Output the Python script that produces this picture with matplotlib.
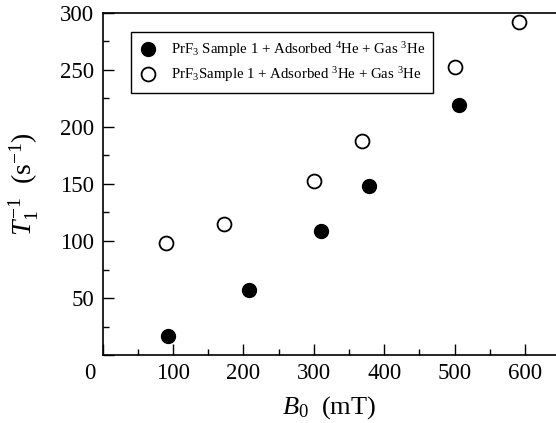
import matplotlib
matplotlib.use("Agg")
import matplotlib.pyplot as plt
import matplotlib.transforms as mtransforms

plt.rcParams['font.family'] = ['Liberation Serif', 'DejaVu Serif']
plt.rcParams['mathtext.fontset'] = 'custom'
plt.rcParams['mathtext.rm'] = 'Liberation Serif'
plt.rcParams['mathtext.it'] = 'Liberation Serif:italic'

# filled: PrF3 + adsorbed 4He + gas 3He
b_filled = [93, 208, 310, 379, 506]
rate_filled = [17, 57, 109, 148, 219]
# open: PrF3 + adsorbed 3He + gas 3He
b_open = [90, 172, 300, 369, 501, 591]
rate_open = [98, 115, 153, 188, 253, 292]

label_filled = r"PrF$_3$ Sample 1 + Adsorbed $^4$He + Gas $^3$He"
label_open = r"PrF$_3$Sample 1 + Adsorbed $^3$He + Gas $^3$He"

xticks = [0, 100, 200, 300, 400, 500, 600]
yticks = [0, 50, 100, 150, 200, 250, 300]

fig = plt.figure(figsize=(5.56, 4.23), dpi=100)
ax = fig.add_axes([102.5 / 556, 1 - 355 / 423, 1 - 102.5 / 556, (355 - 13) / 423])

ax.plot(b_filled, rate_filled, 'o', color='black', markersize=10, label=label_filled)
ax.plot(b_open, rate_open, 'o', markerfacecolor='white', markeredgecolor='black',
        markeredgewidth=1.3, markersize=10, label=label_open)

ax.set_xlim(0, 644)
ax.set_ylim(0, 300)
ax.set_xticks(xticks)
ax.set_yticks(yticks)
ax.set_yticklabels([''] + [str(v) for v in yticks[1:]])
ax.set_xticks([50, 150, 250, 350, 450, 550], minor=True)
ax.set_yticks([25, 75, 125, 175, 225, 275], minor=True)
ax.tick_params(which='both', direction='in', top=False, right=False, labelsize=16.5, width=1)
ax.tick_params(which='major', length=8, pad=6)
ax.tick_params(which='minor', length=4)
ax.spines['right'].set_visible(False)
for s in ['left', 'bottom', 'top']:
    ax.spines[s].set_linewidth(1.2)

# the lone "0" sits diagonally off the corner
lab0 = ax.get_xticklabels()[0]
lab0.set_transform(lab0.get_transform() + mtransforms.ScaledTranslation(-13 / 100, 0, fig.dpi_scale_trans))

ax.set_xlabel(r"$B_0$  (mT)", fontsize=19, labelpad=7)
ax.set_ylabel(r"$T_1^{-1}$  (s$^{-1}$)", fontsize=20, labelpad=14)

leg = ax.legend(loc='upper left', bbox_to_anchor=(0.062, 0.945), borderaxespad=0,
                fontsize=10.7, frameon=True, fancybox=False, edgecolor='black',
                framealpha=1, handlelength=1.2, handletextpad=0.95,
                borderpad=0.55, labelspacing=0.45)
leg.get_frame().set_linewidth(1.0)

fig.savefig("out.png", dpi=100)
